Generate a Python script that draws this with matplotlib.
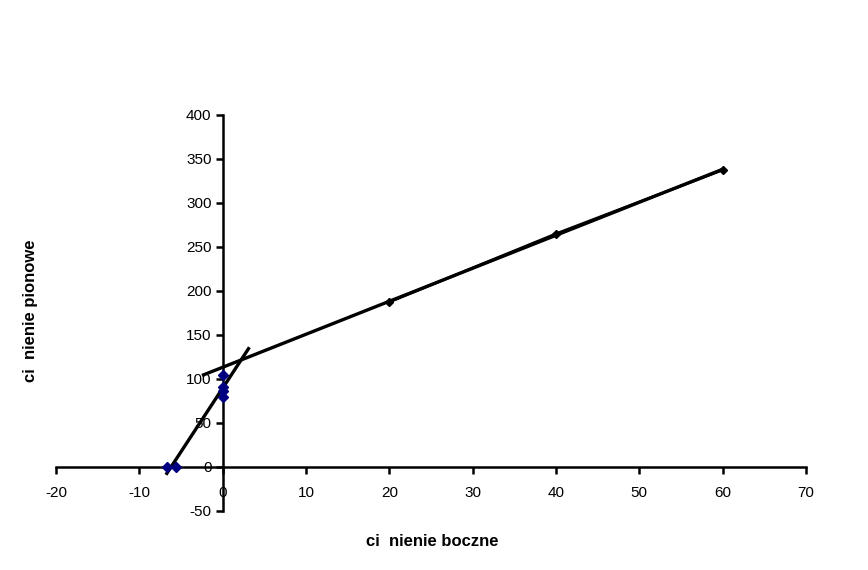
import numpy as np
import matplotlib.pyplot as plt

plt.rcParams['font.family'] = ['Liberation Sans', 'DejaVu Sans']
plt.rcParams['axes.unicode_minus'] = False

# blue series (side vs vertical)
blue_x = [-6.7, -5.6, 0, 0, 0, 0]
blue_y = [0, 0, 79, 86, 91, 104]

# black series
black_x = [20, 40, 60]
black_y = [187.5, 265, 337.5]

fig = plt.figure(figsize=(8.68, 5.70), dpi=100)
ax = fig.add_axes([56/868, 1-511/570, 750/868, 396/570])

ax.set_xlim(-20, 70)
ax.set_ylim(-50, 400)

# trend lines (linear fits, extended like excel forecast)
k1, b1 = np.polyfit(blue_x, blue_y, 1)
tx1 = np.array([min(blue_x), max(blue_x) + 3.1])
ax.plot(tx1, k1 * tx1 + b1, color='black', lw=2.4, zorder=3)

k2, b2 = np.polyfit(black_x, black_y, 1)
tx2 = np.array([min(black_x) - 22.3, max(black_x)])
ax.plot(tx2, k2 * tx2 + b2, color='black', lw=2.4, zorder=3)

ax.plot(black_x, black_y, color='black', lw=2.0, marker='D', ms=4, zorder=4)
ax.plot(blue_x, blue_y, ls='none', marker='D', ms=5, color='#000080', zorder=5)

for s in ['top', 'right']:
    ax.spines[s].set_visible(False)
ax.spines['left'].set_position(('data', 0))
ax.spines['bottom'].set_position(('data', 0))
ax.spines['left'].set_linewidth(1.8)
ax.spines['bottom'].set_linewidth(1.8)

ax.set_xticks(np.arange(-20, 71, 10))
ax.set_yticks(np.arange(-50, 401, 50))
ax.tick_params(direction='out', length=5, width=1.8, labelsize=11, colors='black')
ax.tick_params(axis='x', pad=9)
ax.tick_params(axis='y', pad=3)

fig.text(432/868, 1-542/570, 'ci  nienie boczne', ha='center', va='center',
         fontsize=12, fontweight='bold')
fig.text(30/868, 1-311/570, 'ci  nienie pionowe', ha='center', va='center',
         fontsize=12, fontweight='bold', rotation=90)

fig.savefig('out.png', dpi=100)
